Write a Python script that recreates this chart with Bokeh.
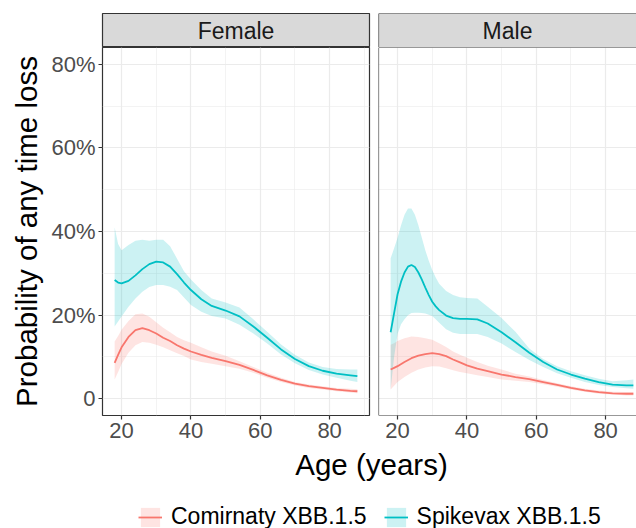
from bokeh.plotting import figure
from bokeh.layouts import column, row
from bokeh.models import Range1d, FixedTicker, Label, Span, Legend, LegendItem
from bokeh.embed import file_html
from bokeh.resources import INLINE

# ---------------- data ----------------
panels = ["Female", "Male"]
series = ["Comirnaty XBB.1.5", "Spikevax XBB.1.5"]
colors = ["#F8766D", "#00BFC4"]

ages = [18, 19, 20, 22, 24, 26, 28, 30, 32, 34, 36, 38, 40, 43, 46, 50, 54, 58, 62, 66, 70, 74, 78, 82, 86, 88]

female_comirnaty = [8.6, 10.5, 12.3, 14.8, 16.4, 16.9, 16.4, 15.6, 14.6, 13.8, 12.8, 12.0, 11.3, 10.5, 9.8, 9.0, 8.1, 6.9, 5.6, 4.5, 3.6, 3.0, 2.6, 2.2, 1.9, 1.8]
female_comirnaty_hi = [13.7, 15.0, 16.5, 18.6, 20.2, 20.4, 19.6, 18.3, 17.0, 15.9, 14.8, 14.0, 13.4, 12.3, 11.3, 10.3, 9.0, 7.6, 6.2, 5.0, 4.0, 3.4, 3.0, 2.6, 2.4, 2.3]
female_comirnaty_lo = [4.6, 6.4, 8.3, 11.0, 12.8, 13.6, 13.4, 12.9, 12.3, 11.6, 10.9, 10.2, 9.4, 8.8, 8.4, 7.8, 7.2, 6.2, 5.0, 4.0, 3.2, 2.6, 2.2, 1.8, 1.5, 1.3]

female_spikevax = [28.4, 27.8, 27.6, 28.2, 29.5, 31.0, 32.2, 32.8, 32.6, 31.6, 29.8, 27.8, 26.0, 23.8, 22.2, 21.1, 19.7, 17.3, 14.6, 11.8, 9.5, 7.8, 6.7, 6.0, 5.6, 5.4]
female_spikevax_hi = [41.0, 37.0, 35.5, 36.8, 37.8, 38.0, 37.8, 38.0, 38.0, 36.5, 33.5, 30.5, 28.5, 26.0, 24.0, 23.0, 21.8, 19.0, 16.0, 13.0, 10.5, 8.7, 7.6, 7.1, 7.0, 7.0]
female_spikevax_lo = [17.3, 18.5, 19.7, 22.0, 24.0, 25.6, 26.7, 27.2, 27.2, 26.8, 26.0, 24.2, 22.4, 20.8, 19.8, 19.2, 17.7, 15.6, 13.2, 10.6, 8.5, 6.9, 5.8, 5.0, 4.3, 4.0]

male_comirnaty = [7.0, 7.4, 7.8, 8.8, 9.7, 10.3, 10.7, 10.9, 10.7, 10.2, 9.4, 8.7, 8.0, 7.2, 6.6, 5.8, 5.2, 4.7, 4.0, 3.3, 2.6, 2.0, 1.6, 1.3, 1.2, 1.2]
male_comirnaty_hi = [12.9, 13.3, 13.8, 14.5, 14.9, 14.8, 14.5, 14.1, 13.3, 12.4, 11.3, 10.5, 9.8, 8.8, 7.9, 7.0, 6.0, 5.3, 4.5, 3.7, 3.0, 2.4, 2.0, 1.7, 1.6, 1.6]
male_comirnaty_lo = [2.2, 3.1, 4.0, 5.2, 6.2, 7.0, 7.5, 7.8, 7.7, 7.3, 6.8, 6.4, 6.1, 5.6, 5.2, 4.6, 4.3, 4.0, 3.5, 2.9, 2.2, 1.7, 1.2, 1.0, 0.8, 0.8]

ages_male_spikevax = [18, 19, 20, 21, 22, 23, 24, 25, 26, 27, 28, 29, 30, 31, 32, 34, 36, 38, 40, 43, 46, 50, 54, 58, 62, 66, 70, 74, 78, 82, 86, 88]
male_spikevax = [15.9, 20.5, 25.0, 28.0, 30.2, 31.6, 32.0, 31.5, 30.2, 28.5, 26.6, 24.8, 23.2, 22.1, 21.2, 19.9, 19.3, 19.1, 19.1, 19.0, 18.0, 15.9, 13.5, 11.0, 8.8, 7.0, 5.8, 4.8, 4.0, 3.4, 3.2, 3.2]
male_spikevax_hi = [33.6, 36.0, 38.5, 41.5, 44.0, 45.5, 45.5, 44.0, 41.5, 38.5, 35.5, 33.0, 30.8, 29.0, 27.5, 25.8, 24.8, 24.3, 24.1, 24.0, 22.0, 19.3, 16.0, 12.0, 9.5, 7.8, 6.6, 5.6, 4.8, 4.2, 4.4, 4.6]
male_spikevax_lo = [2.2, 10.0, 15.5, 17.8, 19.0, 20.0, 20.5, 20.6, 20.6, 20.5, 20.4, 20.1, 19.8, 19.0, 18.2, 16.6, 15.8, 15.5, 15.5, 15.5, 14.8, 13.2, 11.2, 9.3, 7.6, 6.1, 5.0, 4.0, 3.3, 2.8, 2.5, 2.4]

panel_data = {
    "Female": [(ages, female_comirnaty, female_comirnaty_lo, female_comirnaty_hi),
               (ages, female_spikevax, female_spikevax_lo, female_spikevax_hi)],
    "Male": [(ages, male_comirnaty, male_comirnaty_lo, male_comirnaty_hi),
             (ages_male_spikevax, male_spikevax, male_spikevax_lo, male_spikevax_hi)],
}

x_ticks = [20, 40, 60, 80]
x_minor = [30, 50, 70, 90]
y_ticks = [0, 20, 40, 60, 80]
y_minor = [10, 30, 50, 70]
y_tick_labels = ["0", "20%", "40%", "60%", "80%"]

# ---------------- style / geometry ----------------
FONT = "Liberation Sans"
BORDER = "#333333"
GRID = "#EBEBEB"
X0, X1 = 14.5, 91.5
Y0, Y1 = -4, 84
LEFT = 102
PW_L = 267
PW_R = 258
SEP_L = 4
SEP_R = 5
W_L = LEFT + PW_L + SEP_L
W_R = 636 - W_L
STRIP_TOP = 13
STRIP_H = 34
PANEL_H = 368
AXIS_H = 32
BOTTOM_H = 528 - STRIP_TOP - STRIP_H - PANEL_H - AXIS_H
X1_R = X0 + PW_R * (X1 - X0) / PW_L
NAN = float("nan")


def add_borders(p, x0, y0, y1):
    for loc, dim in [(x0, "height"), (y0, "width"), (y1, "width")]:
        p.add_layout(Span(location=loc, dimension=dim, line_color=BORDER, line_width=1.2))


def make_strip(name, width, lb, rb, right):
    s = figure(width=width, height=STRIP_TOP + STRIP_H, x_range=Range1d(0, 1), y_range=Range1d(0, 1),
               x_axis_location=None, y_axis_location=None, title=None,
               min_border_left=lb, min_border_right=rb, min_border_top=STRIP_TOP, min_border_bottom=0,
               background_fill_color="#D9D9D9", border_fill_color="white",
               output_backend="svg", toolbar_location=None)
    s.xgrid.visible = False
    s.ygrid.visible = False
    if right:
        s.outline_line_color = None
        add_borders(s, 0, 0, 1)
    else:
        s.outline_line_color = BORDER
        s.outline_line_width = 1.2
    s.add_layout(Label(x=0.5, y=0.5, text=name, text_align="center", text_baseline="middle",
                       text_font=FONT, text_font_size="23px", text_color="#1A1A1A"))
    return s


def make_panel(name, width, lb, rb, x_end, show_y):
    p = figure(width=width, height=PANEL_H + AXIS_H, x_range=Range1d(X0, x_end), y_range=Range1d(Y0, Y1),
               y_axis_location="left" if show_y else None, title=None,
               min_border_left=lb, min_border_right=rb, min_border_top=0, min_border_bottom=AXIS_H,
               background_fill_color="white", border_fill_color="white",
               output_backend="svg", toolbar_location=None)
    p.xgrid.ticker = FixedTicker(ticks=x_ticks, minor_ticks=x_minor)
    p.ygrid.ticker = FixedTicker(ticks=y_ticks, minor_ticks=y_minor)
    for g in (p.xgrid, p.ygrid):
        g.grid_line_color = GRID
        g.grid_line_width = 1.2
        g.minor_grid_line_color = GRID
        g.minor_grid_line_width = 0.6
    ax = p.xaxis[0]
    ax.ticker = FixedTicker(ticks=x_ticks)
    ax.axis_line_color = None
    ax.major_tick_line_color = BORDER
    ax.major_tick_line_width = 1.2
    ax.major_tick_out = 4
    ax.major_tick_in = 0
    ax.minor_tick_line_color = None
    ax.major_label_standoff = 3
    ax.major_label_text_font = FONT
    ax.major_label_text_font_size = "22px"
    ax.major_label_text_color = "#4D4D4D"
    if show_y:
        ay = p.yaxis[0]
        ay.ticker = FixedTicker(ticks=y_ticks)
        ay.major_label_overrides = {t: l for t, l in zip(y_ticks, y_tick_labels)}
        ay.axis_line_color = None
        ay.major_tick_line_color = BORDER
        ay.major_tick_line_width = 1.2
        ay.major_tick_out = 4
        ay.major_tick_in = 0
        ay.minor_tick_line_color = None
        ay.major_label_standoff = 3
        ay.major_label_text_font = FONT
        ay.major_label_text_font_size = "22px"
        ay.major_label_text_color = "#4D4D4D"
        ay.axis_label = "Probability of any time loss"
        ay.axis_label_text_font = FONT
        ay.axis_label_text_font_size = "29.5px"
        ay.axis_label_text_font_style = "normal"
        ay.axis_label_text_color = "black"
        ay.axis_label_standoff = 5
        p.outline_line_color = BORDER
        p.outline_line_width = 1.2
    else:
        p.outline_line_color = None
        add_borders(p, X0, Y0, Y1)

    groups = panel_data[name]
    for (xs, mid, lo, hi), c in zip(groups, colors):
        p.varea(x=xs, y1=lo, y2=hi, fill_color=c, fill_alpha=0.2)
    for (xs, mid, lo, hi), c in zip(groups, colors):
        p.line(x=xs, y=mid, line_color=c, line_width=1.8)
    return p


strip_l = make_strip(panels[0], W_L, LEFT, SEP_L, False)
strip_r = make_strip(panels[1], W_R, SEP_R, 0, True)
panel_l = make_panel(panels[0], W_L, LEFT, SEP_L, X1, True)
panel_r = make_panel(panels[1], W_R, SEP_R, 0, X1_R, False)

# bottom: axis title + legend
b = figure(width=636, height=BOTTOM_H, x_range=Range1d(0, 636), y_range=Range1d(0, BOTTOM_H),
           x_axis_location=None, y_axis_location=None, title=None,
           min_border_left=0, min_border_right=0, min_border_top=0, min_border_bottom=0,
           outline_line_color=None, background_fill_color="white", border_fill_color="white",
           output_backend="svg", toolbar_location=None)
b.xgrid.visible = False
b.ygrid.visible = False
b.add_layout(Label(x=371, y=BOTTOM_H - 17, text="Age (years)", text_align="center", text_baseline="middle",
                   text_font=FONT, text_font_size="29.5px", text_color="black"))
items = []
for name, c in zip(series, colors):
    ra = b.varea(x=[NAN], y1=[NAN], y2=[NAN], fill_color=c, fill_alpha=0.2)
    rl = b.line(x=[NAN], y=[NAN], line_color=c, line_width=1.8)
    items.append(LegendItem(label=name, renderers=[ra, rl]))
leg = Legend(items=items, orientation="horizontal", location=(138, -2),
             padding=0, margin=0, spacing=17, label_standoff=9,
             glyph_width=24, glyph_height=24, label_height=24,
             label_text_font=FONT, label_text_font_size="23px", label_text_color="black",
             border_line_color=None, background_fill_alpha=0)
b.add_layout(leg)

layout = column(row(strip_l, strip_r), row(panel_l, panel_r), b)
open("out.html", "w").write(file_html(layout, INLINE))
